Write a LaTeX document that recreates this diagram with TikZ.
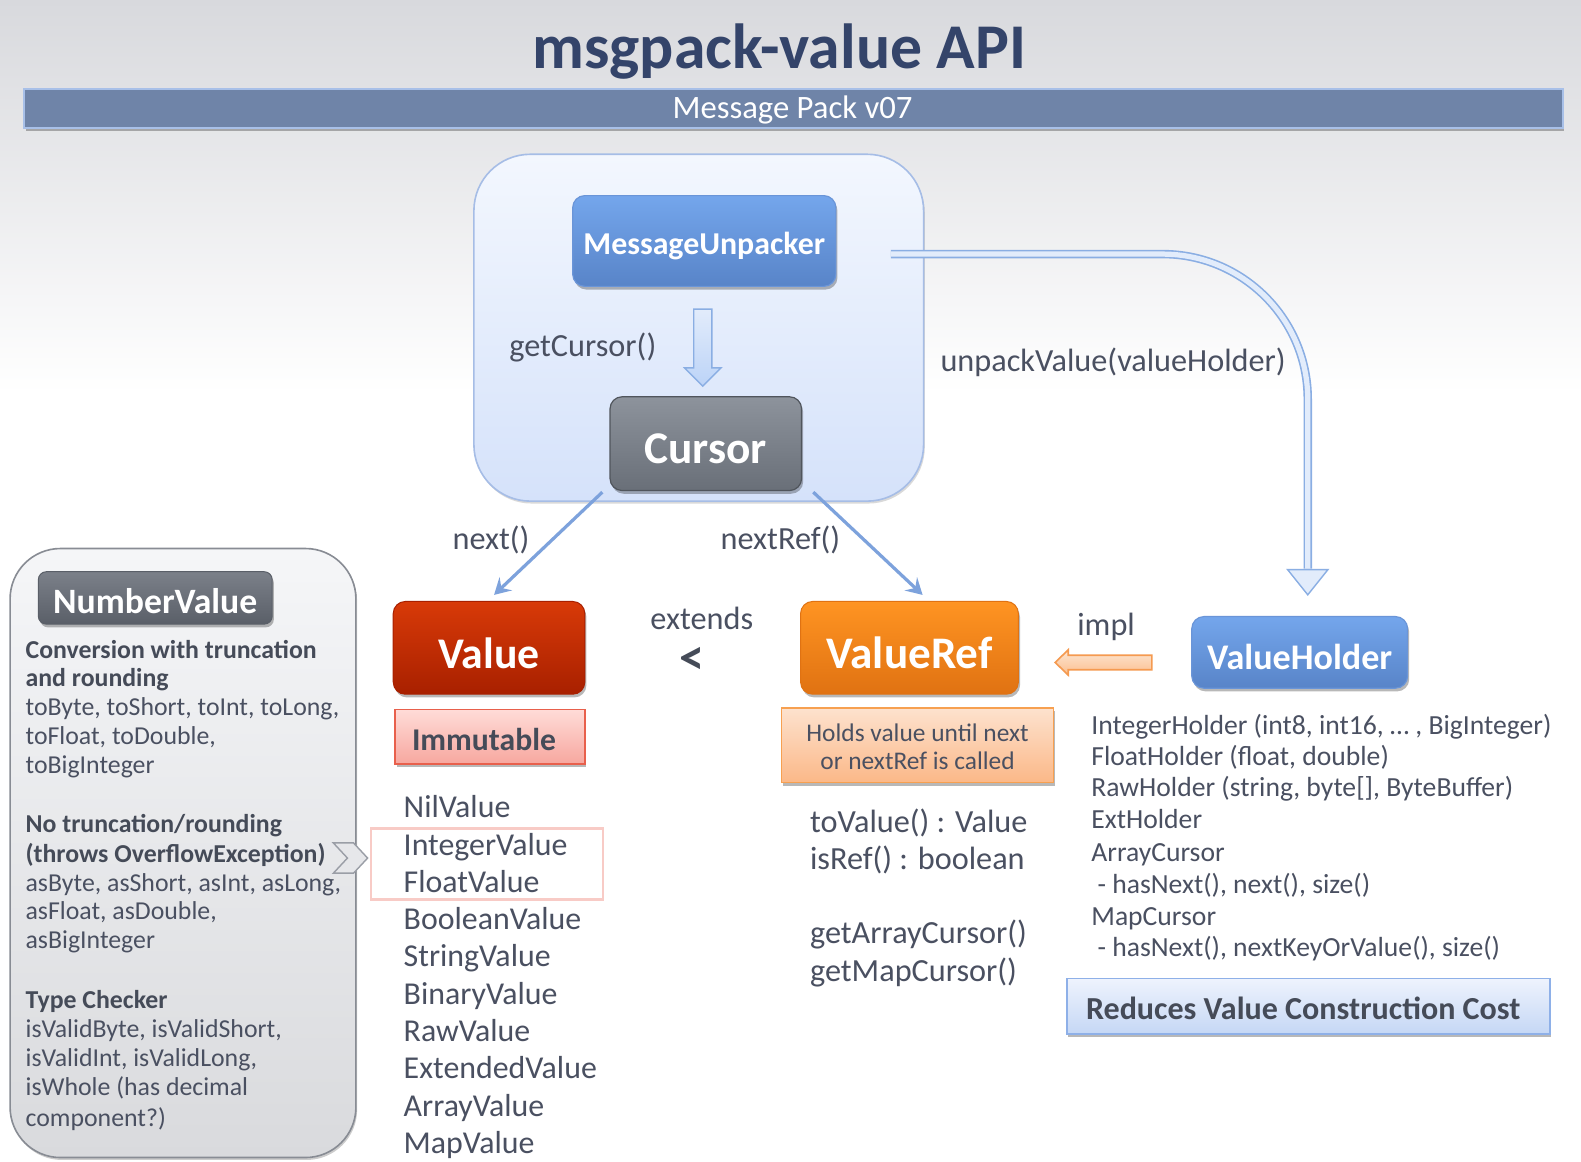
\documentclass[tikz,border=0pt]{standalone}
\usepackage{fontspec}
\setmainfont{Carlito}
\usetikzlibrary{shadows,calc,arrows.meta}
\definecolor{bgtop}{HTML}{D8D9DD}
\definecolor{txt}{HTML}{4A5061}
\definecolor{txtb}{HTML}{454B58}
\definecolor{titlec}{HTML}{34446A}
\definecolor{bannerc}{HTML}{6F84A8}
\definecolor{bannerb}{HTML}{A8C0E8}
\definecolor{conttop}{HTML}{F3F7FE}
\definecolor{contbot}{HTML}{D5E2FA}
\definecolor{contb}{HTML}{A6BDE6}
\definecolor{bluetop}{HTML}{74A6EC}
\definecolor{bluebot}{HTML}{5884C8}
\definecolor{blueb}{HTML}{6A95D8}
\definecolor{graytop}{HTML}{8D939C}
\definecolor{graybot}{HTML}{696F78}
\definecolor{grayb}{HTML}{50555C}
\definecolor{redtop}{HTML}{D83A08}
\definecolor{redbot}{HTML}{A82000}
\definecolor{orgtop}{HTML}{FF9422}
\definecolor{orgbot}{HTML}{E07212}
\definecolor{pinktop}{HTML}{FFDCD8}
\definecolor{pinkbot}{HTML}{F7A79F}
\definecolor{pinkb}{HTML}{E8604C}
\definecolor{peachtop}{HTML}{FDE2CE}
\definecolor{peachbot}{HTML}{FBB888}
\definecolor{peachb}{HTML}{F7A050}
\definecolor{redtop2}{HTML}{EEF3FD}
\definecolor{redbot2}{HTML}{C5D7F5}
\definecolor{reduceb}{HTML}{8EB0E8}
\definecolor{nvtop}{HTML}{F5F6F8}
\definecolor{nvbot}{HTML}{D9DADD}
\definecolor{nvb}{HTML}{888C94}
\definecolor{nvhtop}{HTML}{7B8089}
\definecolor{nvhbot}{HTML}{5A5F68}
\definecolor{arrfill}{HTML}{E2ECFB}
\definecolor{arrfill2}{HTML}{BCD3F7}
\definecolor{arrb}{HTML}{8AAEE3}
\definecolor{linec}{HTML}{7DA2DC}
\definecolor{intb}{HTML}{F8CBC6}
\definecolor{chevf}{HTML}{E6E7EA}
\definecolor{chevb}{HTML}{9A9EA6}
\definecolor{impltop}{HTML}{FDE6D2}
\definecolor{implbot}{HTML}{FBBE8E}
\definecolor{implb}{HTML}{F59A50}
\begin{document}
\begin{tikzpicture}[x=0.5pt,y=-0.5pt,
  shad/.style={drop shadow={shadow xshift=0.8pt,shadow yshift=-1.6pt,opacity=0.28,fill=black}},
  box/.style={rounded corners=6pt,inner sep=0pt,shad},
  ctr/.style={text height=#1,text depth=0pt},
  bluebox/.style={box,top color=bluetop,bottom color=bluebot,draw=blueb,line width=0.6pt,text=white,font=\bfseries},
  txtnode/.style={inner sep=0pt,anchor=base west,text=txt},
  nvbold/.style={font=\bfseries\fontsize{12.8}{15}\selectfont,text=txtb},
  nvreg/.style={font=\fontsize{12.8}{15}\selectfont},
  lbl/.style={inner sep=0pt,anchor=base,text=txt,font=\fontsize{16}{19}\selectfont},
  thinarr/.style={draw=linec,line width=1.6pt,-{Stealth[length=8pt,width=9pt,inset=3pt]}},
]
\useasboundingbox (0,0) rectangle (1568,1152);
\fill[white] (0,0) rectangle (1568,1152);
\shade[top color=bgtop,bottom color=white] (0,0) rectangle (1568,390);

% title and banner
\node[inner sep=0pt,anchor=base,text=titlec,font=\bfseries\fontsize{31.6}{36}\selectfont] (title) at (773,68) {msgpack-value API};
\node[inner sep=0pt,minimum width=763pt,minimum height=19.5pt,fill=bannerc,draw=bannerb,line width=1pt,shad] (banner) at (787,107.5) {};
\node[inner sep=0pt,anchor=base,text=white,font=\fontsize{16.2}{18}\selectfont] (bannertxt) at (786,118) {Message Pack v07};

% container
\node[rounded corners=28pt,minimum width=223pt,minimum height=172pt,top color=conttop,bottom color=contbot,draw=contb,line width=0.8pt,drop shadow={shadow xshift=0.6pt,shadow yshift=-1.2pt,opacity=0.15,fill=black}] (cont) at (693,325) {};

\node[bluebox,ctr=13.2pt,minimum width=130.5pt,minimum height=45pt,font=\bfseries\fontsize{15.8}{18}\selectfont] (mu) at (698.5,239) {MessageUnpacker};
\node[box,ctr=19.5pt,minimum width=95pt,minimum height=46.5pt,top color=graytop,bottom color=graybot,draw=grayb,line width=0.6pt,text=white,font=\bfseries\fontsize{22.5}{26}\selectfont] (cursor) at (700,440) {Cursor};

% getCursor block arrow
\coordinate (gcA) at ($(mu.south)+(-1.5,22)$);
\coordinate (gcB) at ($(cursor.north)+(-3,-10)$);
\path[draw=arrb,line width=0.7pt,top color=arrfill,bottom color=arrfill2] let \p1=(gcA), \p2=(gcB) in
  (\x1-4.5pt,\y1) -- (\x1+4.5pt,\y1) -- (\x1+4.5pt,\y2+9pt) -- (\x1+9pt,\y2+9pt) -- (\x1,\y2)
  -- (\x1-9pt,\y2+9pt) -- (\x1-4.5pt,\y2+9pt) -- cycle;
\node[lbl] (gclbl) at (578,354) {getCursor()};

% value nodes
\node[box,ctr=20pt,minimum width=95pt,minimum height=46pt,top color=redtop,bottom color=redbot,draw=redbot,line width=0.5pt,text=white,font=\bfseries\fontsize{21.7}{25}\selectfont] (value) at (485,642.5) {Value};
\node[box,ctr=14.1pt,rounded corners=0pt,minimum width=94pt,minimum height=27pt,top color=pinktop,bottom color=pinkbot,draw=pinkb,line width=0.8pt,text=txtb,font=\bfseries\fontsize{15.7}{18}\selectfont] (immut) at (486,730.5) {\hspace*{-6pt}Immutable};
\node[box,ctr=20.4pt,minimum width=108pt,minimum height=46pt,top color=orgtop,bottom color=orgbot,draw=orgbot,line width=0.5pt,text=white,font=\bfseries\fontsize{22.4}{26}\selectfont] (vr) at (902,642.5) {ValueRef};
\node[box,align=center,rounded corners=0pt,minimum width=135pt,minimum height=37pt,top color=peachtop,bottom color=peachbot,draw=peachb,line width=0.8pt,text=txt,font=\fontsize{12.6}{14}\selectfont] (holds) at (910,739) {\rule{0pt}{10pt}Holds value until next\\or nextRef is called};
\node[bluebox,ctr=16.5pt,minimum width=107pt,minimum height=35.5pt,font=\bfseries\fontsize{17.9}{21}\selectfont] (vh) at (1289,647) {ValueHolder};
\node[box,ctr=13.2pt,rounded corners=0pt,minimum width=239.5pt,minimum height=27.5pt,top color=redtop2,bottom color=redbot2,draw=reduceb,line width=0.8pt,text=txtb,font=\bfseries\fontsize{15.9}{18}\selectfont] (reduces) at (1297.5,998) {\hspace*{-5pt}Reduces Value Construction Cost};

% next arrows
\draw[thinarr] ($(cursor.south west)+(-7,1)$) -- ($(value.north)+(5,-6)$);
\draw[thinarr] ($(cursor.south east)+(11,1)$) -- ($(vr.north)+(13,-6)$);
\node[lbl] (nextlbl) at (487,545) {next()};
\node[lbl] (nextreflbl) at (774,545) {nextRef()};

% unpackValue arrow
\coordinate (ua) at ($(mu.east)+(54,13)$);
\coordinate (ub) at ($(vh.north)+(8,-21)$);
\filldraw[draw=arrb,fill=arrfill,line width=0.7pt] let \p1=(ub) in
  (\x1,\y1) -- (\x1-10pt,\y1+12.5pt) -- (\x1+10pt,\y1+12.5pt) -- cycle;
\draw[rounded corners=72pt,draw=arrb,line width=0.8pt,double=arrfill,double distance=2.6pt] (ua) -| ($(ub)+(0,-26)$);
\node[lbl] (uvlbl) at (1104,368) {unpackValue(valueHolder)};

% extends
\node[lbl] (extlbl) at (696,624) {extends};
\node[inner sep=0pt,text height=11pt,text depth=0pt,text=txtb,font=\bfseries\fontsize{25}{28}\selectfont] (lt) at (686,658) {<};

% impl arrow
\coordinate (ia) at ($(vh.west)+(-39,10)$);
\coordinate (ib) at ($(vr.east)+(36,14)$);
\path[draw=implb,line width=0.8pt,top color=impltop,bottom color=implbot] let \p1=(ia), \p2=(ib) in
  (\x1,\y1+3.6pt) -- (\x2+6.5pt,\y1+3.6pt) -- (\x2+6.5pt,\y1+6.3pt) -- (\x2,\y1) -- (\x2+6.5pt,\y1-6.3pt)
  -- (\x2+6.5pt,\y1-3.6pt) -- (\x1,\y1-3.6pt) -- cycle;
\node[lbl] (impllbl) at (1097,630) {impl};

% value list
\node[inner sep=0pt,minimum width=115pt,minimum height=35pt,draw=intb,line width=1.4pt] (intfloat) at (483,857) {};
\foreach \t [count=\i] in {NilValue,IntegerValue,FloatValue,BooleanValue,StringValue,BinaryValue,RawValue,ExtendedValue,ArrayValue,MapValue}
  \node[txtnode,font=\fontsize{15.8}{18}\selectfont] (vl\i) at (400,{811+(\i-1)*37}) {\t};

% valueref methods
\node[txtnode,font=\fontsize{16}{19}\selectfont] (m1) at (803,826) {toValue() : Value};
\node[txtnode,font=\fontsize{16}{19}\selectfont] (m2) at (803,862) {isRef() : boolean};
\node[txtnode,font=\fontsize{16}{19}\selectfont] (m3) at (803,936) {getArrayCursor()};
\node[txtnode,font=\fontsize{16}{19}\selectfont] (m4) at (803,973) {getMapCursor()};

% value holder list
\foreach \t/\yy [count=\i] in {{IntegerHolder (int8, int16, … , BigInteger)}/728,{FloatHolder (float, double)}/759,{RawHolder (string, byte[], ByteBuffer)}/790,{ExtHolder}/822,{ArrayCursor}/854,{\ - hasNext(), next(), size()}/886,{MapCursor}/918,{\ - hasNext(), nextKeyOrValue(), size()}/949}
  \node[txtnode,font=\fontsize{13.7}{16}\selectfont] (h\i) at (1082,\yy) {\t};

% NumberValue panel
\node[rounded corners=25pt,minimum width=171.5pt,minimum height=302pt,top color=nvtop,bottom color=nvbot,draw=nvb,line width=0.8pt,drop shadow={shadow xshift=0.6pt,shadow yshift=-1.2pt,opacity=0.2,fill=black}] (nvbox) at (181.5,846) {};
\node[box,ctr=15.4pt,rounded corners=4pt,minimum width=116pt,minimum height=26pt,top color=nvhtop,bottom color=nvhbot,draw=nvhbot,line width=0.5pt,text=white,font=\bfseries\fontsize{17.7}{21}\selectfont] (nvhead) at (154,593) {NumberValue};
\foreach \t/\yy/\st [count=\i] in {{Conversion with truncation}/653/nvbold,{and rounding}/681/nvbold,{toByte, toShort, toInt, toLong,}/710/nvreg,{toFloat, toDouble,}/738/nvreg,{toBigInteger}/767/nvreg,{No truncation/rounding}/826/nvbold,{(throws OverflowException)}/855/nvbold,{asByte, asShort, asInt, asLong,}/884/nvreg,{asFloat, asDouble,}/912/nvreg,{asBigInteger}/941/nvreg,{Type Checker}/1000/nvbold,{isValidByte, isValidShort,}/1029/nvreg,{isValidInt, isValidLong,}/1058/nvreg,{isWhole (has decimal}/1086/nvreg,{component?)}/1117/nvreg}
  \node[txtnode,\st] (nv\i) at (25,\yy) {\t};

% chevron
\coordinate (chev) at ($(intfloat.west)+(-2,-6)$);
\filldraw[fill=chevf,draw=chevb,line width=0.7pt] let \p1=(chev) in
  (\x1-17pt,\y1+7.5pt) -- (\x1-7pt,\y1+7.5pt) -- (\x1,\y1) -- (\x1-7pt,\y1-7.5pt) -- (\x1-17pt,\y1-7.5pt) -- (\x1-10pt,\y1) -- cycle;
\end{tikzpicture}
\end{document}
